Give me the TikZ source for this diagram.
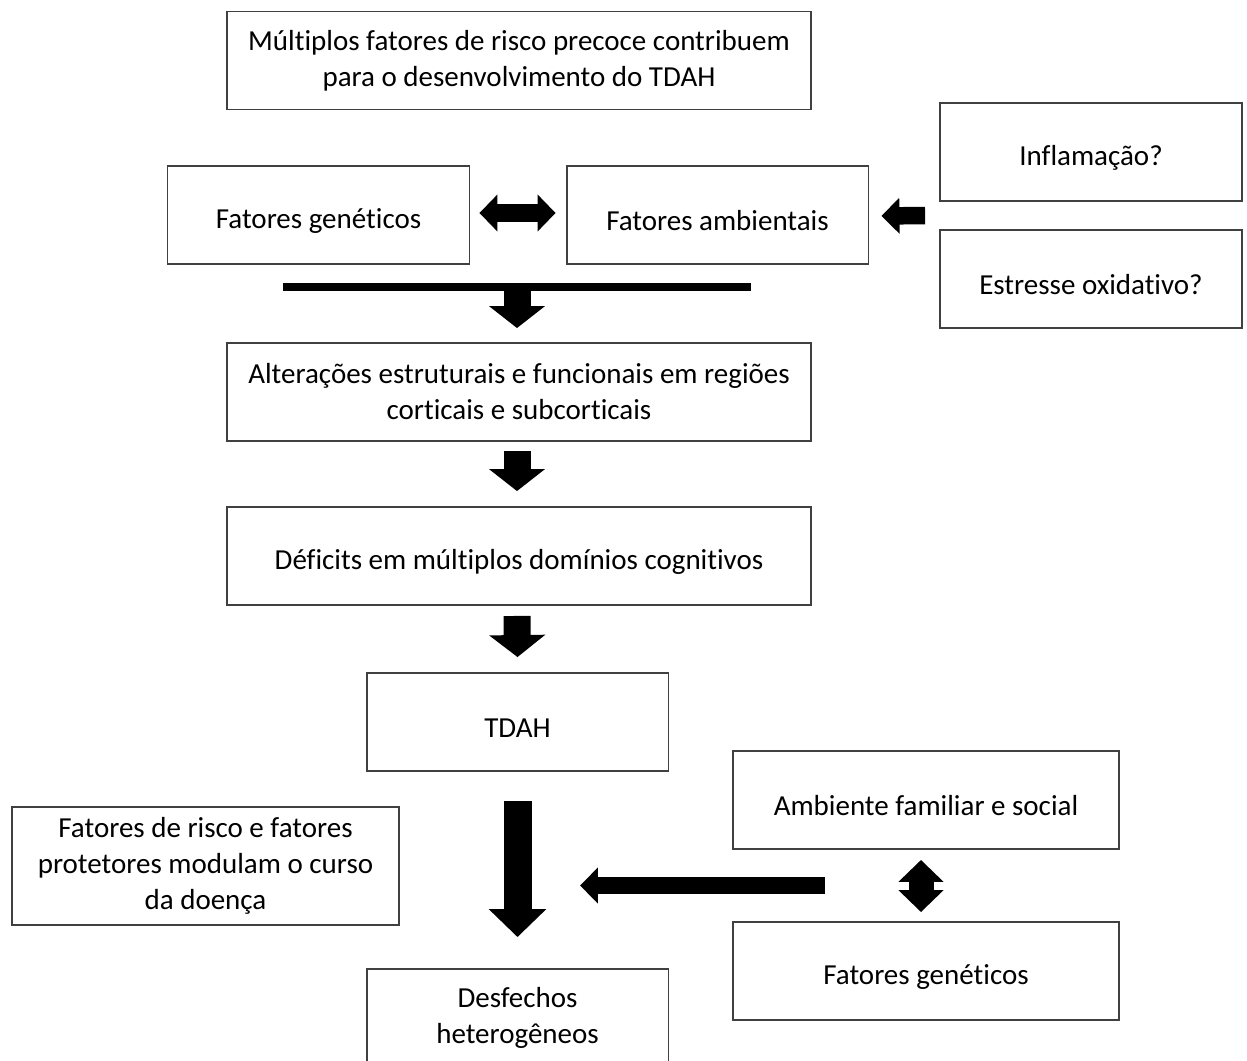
\documentclass[tikz,border=0pt]{standalone}
\usepackage{fontspec}
\setmainfont{Carlito}[Ligatures=NoCommon]
\usetikzlibrary{arrows.meta,calc}

\begin{document}
\begin{tikzpicture}[x=0.02cm, y=-0.02cm, inner sep=1pt]
		\tikzstyle{every node}=[align=center, font=\fontsize{16.5}{20.5}\selectfont]
		\tikzstyle{box}=[draw=black!75, line width=1.1pt, fill=white, minimum height=1.96cm, execute at begin node={\rule{0pt}{18pt}}]
		\tikzstyle{wide}=[box, minimum width=11.68cm]
		\tikzstyle{narrow}=[box, minimum width=6.04cm]
		\tikzstyle{side}=[box, minimum width=7.72cm]
		\tikzstyle{fat}=[line width=0.54cm, -{Triangle[width=1.1cm, length=0.44cm]}]
		\tikzstyle{slim}=[line width=0.35cm, -{Triangle[width=0.7cm, length=0.36cm]}]
		\tikzstyle{slimboth}=[line width=0.35cm, {Triangle[width=0.72cm, length=0.36cm]}-{Triangle[width=0.72cm, length=0.36cm]}]
		\useasboundingbox (0,0) rectangle (1247,1061);
		\clip (0,0) rectangle (1247,1061);

			\node[wide] (risco) at (519, 60.5) {Múltiplos fatores de risco precoce contribuem\\para o desenvolvimento do TDAH};
			\node[narrow] (gen) at (318.5, 215) {Fatores genéticos};
			\node[narrow] (amb) at (717.5, 215) {Fatores ambientais};
			\node[narrow] (infl) at (1091, 152) {Inflamação?};
			\node[narrow] (estr) at (1091, 279) {Estresse oxidativo?};
			\node[wide] (alt) at (519, 392) {Alterações estruturais e funcionais em regiões\\corticais e subcorticais};
			\node[wide] (def) at (519, 556) {Déficits em múltiplos domínios cognitivos};
			\node[narrow] (tdah) at (517.5, 722) {TDAH};
			\node[box, minimum width=7.74cm, minimum height=2.36cm] (mod) at (205.5, 866) {Fatores de risco e fatores\\protetores modulam o curso\\da doença};
			\node[side] (ambfam) at (926, 800) {Ambiente familiar e social};
			\node[side] (gen2) at (926, 971) {Fatores genéticos};
			\node[narrow] (desf) at (517.5, 1018) {Desfechos\\heterogêneos};

			\coordinate (barL) at (283, 287);
			\coordinate (barR) at (751, 287);
			\coordinate (barM) at (517, 287);
			\coordinate (oxi) at ($(infl.south west)!0.5!(estr.north west)$);
			\coordinate (meio) at ($(ambfam.south west)!0.5!(gen2.north west)$);

			\draw[slimboth] ([xshift=0.18cm, yshift=0.04cm]gen.east) -- ([xshift=-0.2cm, yshift=0.04cm]amb.west);
			\draw[slim] ([xshift=-0.28cm]oxi) -- ([xshift=0.24cm, yshift=-0.02cm]amb.east);
			\draw[line width=0.17cm] (barL) -- (barR);
			\draw[fat] (barM) -- ([yshift=0.28cm]barM |- alt.north);
			\draw[fat] ([xshift=-0.04cm, yshift=-0.18cm]alt.south) -- ([xshift=-0.04cm, yshift=0.3cm]def.north);
			\draw[fat] ([xshift=-0.04cm, yshift=-0.2cm]def.south) -- ([yshift=0.3cm]tdah.north);
			\draw[line width=0.56cm, -{Triangle[width=1.12cm, length=0.56cm]}] ([yshift=-0.58cm]tdah.south) -- ([yshift=0.62cm]desf.north);
			\draw[slim] ([xshift=1.86cm]meio) -- ([xshift=1.25cm]tdah.south |- meio);
			\draw[line width=0.5cm, {Triangle[width=0.88cm, length=0.44cm]}-{Triangle[width=0.88cm, length=0.44cm]}] ([xshift=-0.1cm, yshift=-0.2cm]ambfam.south) -- ([xshift=-0.1cm, yshift=0.18cm]gen2.north);
		\end{tikzpicture}
\end{document}
